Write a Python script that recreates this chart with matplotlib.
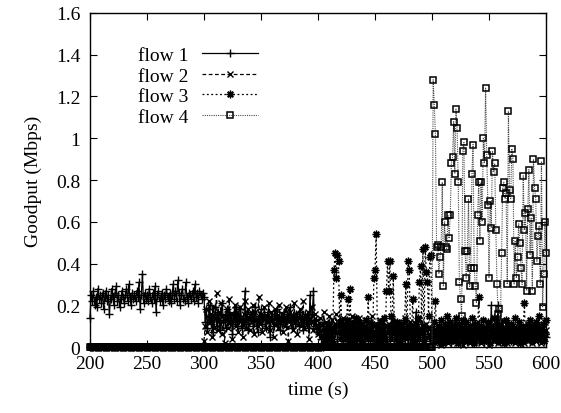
import numpy as np
import matplotlib
matplotlib.use("Agg")
import matplotlib.pyplot as plt

plt.rcParams['font.family'] = ['Liberation Serif', 'DejaVu Serif']
plt.rcParams['font.size'] = 14

# goodput samples, one per second
flow1_t = np.arange(200, 601)
flow1 = [
    0.14, 0.25, 0.22, 0.27, 0.20, 0.24, 0.19, 0.28, 0.23, 0.25,
    0.21, 0.26, 0.18, 0.24, 0.27, 0.22, 0.25, 0.16, 0.23, 0.28,
    0.24, 0.20, 0.26, 0.29, 0.22, 0.25, 0.19, 0.23, 0.27, 0.24,
    0.21, 0.25, 0.28, 0.22, 0.30, 0.24, 0.20, 0.26, 0.23, 0.25,
    0.22, 0.27, 0.24, 0.31, 0.18, 0.25, 0.35, 0.21, 0.26, 0.23,
    0.25, 0.22, 0.28, 0.24, 0.21, 0.26, 0.23, 0.29, 0.17, 0.25,
    0.27, 0.22, 0.24, 0.26, 0.20, 0.25, 0.23, 0.28, 0.24, 0.22,
    0.26, 0.21, 0.25, 0.30, 0.23, 0.27, 0.22, 0.32, 0.26, 0.20,
    0.25, 0.28, 0.23, 0.22, 0.31, 0.24, 0.21, 0.26, 0.25, 0.23,
    0.27, 0.22, 0.30, 0.24, 0.26, 0.21, 0.27, 0.25, 0.23, 0.26,
    0.24,
    0.12, 0.18, 0.09, 0.15, 0.20, 0.11, 0.16, 0.07, 0.14, 0.19,
    0.10, 0.17, 0.13, 0.08, 0.16, 0.21, 0.12, 0.15, 0.09, 0.18,
    0.13, 0.17, 0.11, 0.14, 0.06, 0.16, 0.12, 0.19, 0.10, 0.15,
    0.13, 0.18, 0.09, 0.14, 0.12, 0.27, 0.11, 0.16, 0.08, 0.15,
    0.13, 0.17, 0.10, 0.14, 0.19, 0.12, 0.07, 0.15, 0.13, 0.18,
    0.11, 0.14, 0.16, 0.09, 0.13, 0.17, 0.12, 0.05, 0.15, 0.14,
    0.10, 0.16, 0.13, 0.18, 0.11, 0.14, 0.08, 0.15, 0.12, 0.17,
    0.13, 0.10, 0.16, 0.14, 0.19, 0.12, 0.09, 0.15, 0.13, 0.11,
    0.16, 0.14, 0.10, 0.17, 0.12, 0.15, 0.08, 0.13, 0.16, 0.11,
    0.14, 0.09, 0.25, 0.12, 0.16, 0.27, 0.10, 0.13, 0.07, 0.11,
    0.06, 0.10, 0.04, 0.08, 0.12, 0.05, 0.09, 0.03, 0.07, 0.11,
    0.05, 0.08, 0.02, 0.09, 0.06, 0.10, 0.04, 0.07, 0.13, 0.05,
    0.08, 0.03, 0.06, 0.10, 0.04, 0.09, 0.07, 0.02, 0.08, 0.11,
    0.05, 0.07, 0.03, 0.09, 0.06, 0.12, 0.04, 0.08, 0.05, 0.10,
    0.03, 0.07, 0.09, 0.04, 0.06, 0.11, 0.05, 0.08, 0.02, 0.07,
    0.10, 0.04, 0.06, 0.09, 0.03, 0.08, 0.05, 0.11, 0.06, 0.04,
    0.09, 0.07, 0.03, 0.10, 0.05, 0.08, 0.12, 0.04, 0.06, 0.09,
    0.05, 0.03, 0.08, 0.10, 0.06, 0.04, 0.09, 0.07, 0.02, 0.11,
    0.05, 0.08, 0.04, 0.10, 0.06, 0.17, 0.05, 0.09, 0.03, 0.07,
    0.11, 0.04, 0.08, 0.06, 0.10, 0.10, 0.05, 0.03, 0.08, 0.06,
    0.04, 0.07, 0.03, 0.09, 0.05, 0.02, 0.08, 0.06, 0.04, 0.10,
    0.05, 0.03, 0.07, 0.09, 0.04, 0.06, 0.02, 0.08, 0.05, 0.11,
    0.03, 0.07, 0.04, 0.06, 0.09, 0.02, 0.05, 0.08, 0.04, 0.07,
    0.03, 0.10, 0.05, 0.06, 0.02, 0.08, 0.04, 0.07, 0.05, 0.09,
    0.03, 0.06, 0.04, 0.08, 0.05, 0.02, 0.07, 0.10, 0.04, 0.06,
    0.03, 0.20, 0.05, 0.08, 0.04, 0.06, 0.09, 0.20, 0.03, 0.07,
    0.05, 0.04, 0.08, 0.06, 0.02, 0.09, 0.05, 0.07, 0.03, 0.10,
    0.04, 0.06, 0.08, 0.05, 0.03, 0.07, 0.04, 0.09, 0.06, 0.02,
    0.08, 0.05, 0.07, 0.04, 0.10, 0.03, 0.06, 0.08, 0.05, 0.04,
    0.07, 0.09, 0.03, 0.06, 0.05, 0.08, 0.04, 0.07, 0.06, 0.05,
]

flow2_t = np.arange(300, 601)
flow2 = [
    0.03, 0.10, 0.18, 0.07, 0.22, 0.12, 0.16, 0.05, 0.19, 0.09,
    0.14, 0.26, 0.08, 0.17, 0.11, 0.21, 0.06, 0.15, 0.02, 0.13,
    0.18, 0.09, 0.23, 0.12, 0.16, 0.04, 0.14, 0.20, 0.10, 0.17,
    0.07, 0.13, 0.19, 0.11, 0.05, 0.16, 0.22, 0.09, 0.14, 0.18,
    0.08, 0.15, 0.12, 0.20, 0.06, 0.17, 0.13, 0.10, 0.24, 0.11,
    0.16, 0.07, 0.14, 0.19, 0.09, 0.15, 0.12, 0.21, 0.08, 0.17,
    0.13, 0.05, 0.18, 0.11, 0.15, 0.09, 0.20, 0.12, 0.16, 0.07,
    0.14, 0.10, 0.19, 0.13, 0.03, 0.17, 0.11, 0.15, 0.08, 0.21,
    0.12, 0.16, 0.06, 0.14, 0.18, 0.10, 0.13, 0.22, 0.09, 0.15,
    0.11, 0.17, 0.04, 0.14, 0.12, 0.19, 0.08, 0.16, 0.10, 0.13,
    0.06,
    0.09, 0.14, 0.05, 0.11, 0.17, 0.07, 0.12, 0.03, 0.10, 0.15,
    0.06, 0.13, 0.08, 0.02, 0.11, 0.16, 0.07, 0.10, 0.04, 0.12,
    0.09, 0.14, 0.05, 0.08, 0.11, 0.03, 0.13, 0.07, 0.10, 0.15,
    0.06, 0.09, 0.12, 0.04, 0.08, 0.14, 0.07, 0.11, 0.02, 0.10,
    0.13, 0.06, 0.09, 0.05, 0.12, 0.08, 0.15, 0.04, 0.10, 0.07,
    0.11, 0.03, 0.09, 0.13, 0.06, 0.08, 0.12, 0.05, 0.10, 0.02,
    0.07, 0.11, 0.09, 0.04, 0.13, 0.06, 0.08, 0.10, 0.03, 0.12,
    0.07, 0.09, 0.05, 0.11, 0.08, 0.14, 0.04, 0.06, 0.10, 0.07,
    0.12, 0.03, 0.09, 0.05, 0.11, 0.08, 0.06, 0.13, 0.04, 0.09,
    0.07, 0.10, 0.02, 0.08, 0.11, 0.05, 0.09, 0.06, 0.03, 0.07,
    0.05, 0.08, 0.02, 0.06, 0.10, 0.04, 0.07, 0.01, 0.05, 0.09,
    0.03, 0.06, 0.08, 0.02, 0.07, 0.04, 0.11, 0.05, 0.03, 0.06,
    0.09, 0.02, 0.05, 0.07, 0.04, 0.08, 0.01, 0.06, 0.10, 0.03,
    0.05, 0.07, 0.02, 0.09, 0.04, 0.06, 0.08, 0.03, 0.05, 0.12,
    0.04, 0.07, 0.02, 0.06, 0.09, 0.03, 0.05, 0.08, 0.04, 0.01,
    0.07, 0.05, 0.10, 0.03, 0.06, 0.04, 0.08, 0.02, 0.05, 0.09,
    0.03, 0.06, 0.04, 0.07, 0.11, 0.02, 0.05, 0.08, 0.03, 0.06,
    0.04, 0.09, 0.02, 0.07, 0.05, 0.03, 0.08, 0.06, 0.04, 0.10,
    0.02, 0.05, 0.07, 0.03, 0.09, 0.04, 0.06, 0.02, 0.08, 0.05,
    0.03, 0.07, 0.10, 0.04, 0.06, 0.02, 0.09, 0.05, 0.12, 0.08,
]

flow3_t = np.arange(200, 601)
flow3 = [0.0] * 205 + [
    0.02, 0.05, 0.03, 0.08, 0.04, 0.10, 0.06, 0.03, 0.09, 0.37,
    0.45, 0.33, 0.44, 0.41, 0.12, 0.25, 0.07, 0.04, 0.10, 0.06,
    0.13, 0.23, 0.05, 0.28, 0.09, 0.03, 0.11, 0.06, 0.14, 0.04,
    0.08, 0.12, 0.05, 0.10, 0.03, 0.09, 0.07, 0.13, 0.05, 0.24,
    0.08, 0.04, 0.11, 0.06, 0.33, 0.37, 0.54, 0.10, 0.05, 0.12,
    0.03, 0.09, 0.06, 0.14, 0.04, 0.27, 0.41, 0.27, 0.41, 0.15,
    0.07, 0.34, 0.10, 0.04, 0.12, 0.06, 0.09, 0.03, 0.11, 0.05,
    0.08, 0.13, 0.30, 0.06, 0.41, 0.37, 0.10, 0.05, 0.23, 0.08,
    0.03, 0.11, 0.06, 0.14, 0.31, 0.39, 0.08, 0.47, 0.04, 0.48,
    0.36, 0.31, 0.15, 0.43, 0.44, 0.09,
    0.05, 0.12, 0.22, 0.07, 0.03, 0.10, 0.05, 0.13, 0.08, 0.02,
    0.11, 0.06, 0.15, 0.04, 0.09, 0.12, 0.03, 0.07, 0.10, 0.05,
    0.14, 0.08, 0.02, 0.11, 0.06, 0.09, 0.13, 0.04, 0.08, 0.12,
    0.03, 0.07, 0.10, 0.05, 0.14, 0.09, 0.02, 0.11, 0.06, 0.08,
    0.24, 0.04, 0.10, 0.07, 0.13, 0.03, 0.09, 0.05, 0.12, 0.08,
    0.02, 0.10, 0.06, 0.14, 0.04, 0.09, 0.11, 0.03, 0.07, 0.12,
    0.05, 0.09, 0.02, 0.08, 0.13, 0.06, 0.10, 0.04, 0.11, 0.07,
    0.03, 0.09, 0.14, 0.05, 0.08, 0.12, 0.02, 0.10, 0.06, 0.09,
    0.21, 0.04, 0.08, 0.11, 0.05, 0.13, 0.07, 0.03, 0.10, 0.06,
    0.12, 0.04, 0.09, 0.15, 0.05, 0.08, 0.11, 0.03, 0.06, 0.13,
]

flow4_t = np.arange(200, 601)
flow4 = [0.0] * 301 + [
    1.28, 1.16, 1.02, 0.48, 0.49, 0.35, 0.43, 0.48, 0.79, 0.29,
    0.60, 0.48, 0.47, 0.63, 0.52, 0.63, 0.88, 0.91, 1.08, 0.83,
    1.14, 1.05, 0.79, 0.31, 0.23, 0.15, 0.94, 0.98, 0.46, 0.33,
    0.46, 0.71, 0.29, 0.38, 0.83, 0.97, 0.38, 0.29, 0.21, 0.63,
    0.79, 0.51, 0.79, 0.60, 1.00, 0.88, 1.24, 0.92, 0.68, 0.33,
    0.70, 0.57, 0.94, 0.84, 0.88, 0.56, 0.30, 0.16, 0.18, 0.12,
    0.45, 0.76, 0.79, 0.71, 0.74, 0.30, 1.13, 0.75, 0.71, 0.95,
    0.90, 0.30, 0.51, 0.33, 0.43, 0.59, 0.50, 0.38, 0.30, 0.82,
    0.56, 0.64, 0.27, 0.66, 0.85, 0.44, 0.62, 0.27, 0.90, 0.76,
    0.71, 0.41, 0.53, 0.58, 0.30, 0.89, 0.19, 0.35, 0.60, 0.45,
]

x_ticks = [200, 250, 300, 350, 400, 450, 500, 550, 600]
y_ticks = [0, 0.2, 0.4, 0.6, 0.8, 1.0, 1.2, 1.4, 1.6]
y_tick_labels = ['0', '0.2', '0.4', '0.6', '0.8', '1', '1.2', '1.4', '1.6']

fig = plt.figure(figsize=(5.61, 4.14), dpi=100)
ax = fig.add_axes([0.1604, 0.1594, 0.8129, 0.8068])

ax.plot(flow1_t, flow1, color='black', lw=0.9, ls='-', marker='+',
        ms=6, mew=1.0, label='flow 1', clip_on=False)
ax.plot(flow2_t, flow2, color='black', lw=0.9, ls=(0, (3, 2)), marker='x',
        ms=4.5, mew=1.0, label='flow 2', clip_on=False)
ax.plot(flow3_t, flow3, color='black', lw=0.9, ls=(0, (1.5, 2)), marker=(8, 2, 0),
        ms=5.5, mew=1.0, label='flow 3', clip_on=False)
ax.plot(flow4_t, flow4, color='0.3', lw=0.8, ls=(0, (1, 1)), marker='s',
        ms=4.8, mew=1.1, mec='black', mfc='none', label='flow 4', clip_on=False)

ax.set_xlim(200, 600)
ax.set_ylim(0, 1.6)
ax.set_xticks(x_ticks)
ax.set_yticks(y_ticks)
ax.set_yticklabels(y_tick_labels)
ax.tick_params(direction='in', length=5, width=0.8, top=True, right=True,
               labelsize=14)
ax.tick_params(axis='x', pad=6)
ax.tick_params(axis='y', pad=7)
for s in ax.spines.values():
    s.set_linewidth(1.0)

ax.set_xlabel('time (s)', fontsize=14, labelpad=6)
ax.set_ylabel('Goodput (Mbps)', fontsize=14, labelpad=10)

ax.legend(loc='upper left', bbox_to_anchor=(0.105, 0.9), frameon=False,
          markerfirst=False, handlelength=2.9, handletextpad=0.7,
          labelspacing=0.15, borderpad=0, borderaxespad=0, fontsize=14)

fig.savefig('out.png', dpi=100)
